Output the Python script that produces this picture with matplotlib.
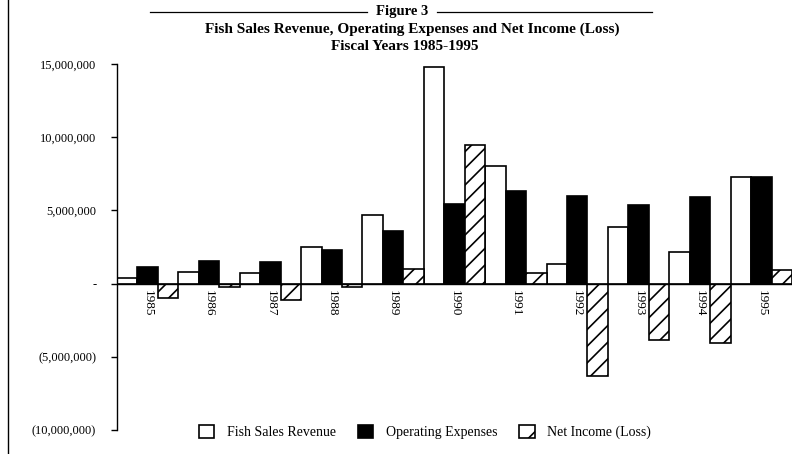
import matplotlib
matplotlib.use("Agg")
import matplotlib.pyplot as plt
from matplotlib.lines import Line2D
from matplotlib.patches import Patch
import numpy as np

years = ["1985", "1986", "1987", "1988", "1989", "1990", "1991", "1992", "1993", "1994", "1995"]
revenue = [350000, 800000, 750000, 2500000, 4700000, 14800000, 8000000, 1350000, 3900000, 2150000, 7300000]
expenses = [1150000, 1550000, 1500000, 2300000, 3600000, 5450000, 6350000, 5950000, 5400000, 5900000, 7300000]
net_income = [-950000, -200000, -1150000, -250000, 1000000, 9450000, 750000, -6300000, -3850000, -4050000, 950000]
yticks = [15000000, 10000000, 5000000, 0, -5000000, -10000000]
ytick_labels = ["15,000,000", "10,000,000", "5,000,000", "-", "(5,000,000)", "(10,000,000)"]
series_names = ["Fish Sales Revenue", "Operating Expenses", "Net Income (Loss)"]

serif = ["Liberation Serif", "DejaVu Serif"]
plt.rcParams["hatch.linewidth"] = 1.2

fig = plt.figure(figsize=(7.94, 4.54), dpi=100)
ax = fig.add_axes([117 / 794, 1 - 430 / 454, (792 - 117) / 794, (430 - 64) / 454])

x = np.arange(len(years))
w = 1 / 3
ax.bar(x - w, revenue, width=w, facecolor="white", edgecolor="black", linewidth=1.2, zorder=2)
ax.bar(x, expenses, width=w, facecolor="black", edgecolor="black", linewidth=1.2, zorder=2)
ax.bar(x + w, net_income, width=w, facecolor="white", edgecolor="black", linewidth=1.2,
       hatch="//", zorder=2)

ax.set_xlim(-0.5, len(years) - 0.5)
ax.set_ylim(-10000000, 15000000)
ax.axhline(0, color="black", linewidth=1.0, zorder=3)

for s in ["top", "right", "bottom"]:
    ax.spines[s].set_visible(False)
ax.spines["left"].set_linewidth(1.0)

ax.set_yticks(yticks)
ax.set_yticklabels(ytick_labels, fontsize=9, family=serif)
ax.tick_params(axis="y", length=4, width=1, pad=11)
ax.set_xticks([])

for xi, yr in zip(x, years):
    ax.text(xi, -450000, yr, rotation=-90, ha="center", va="top", fontsize=9.5, family=serif)

# Title block
fig.text(402 / 794, 1 - 11 / 454, "Figure 3", ha="center", va="center", fontsize=10.5,
         fontweight="bold", family=serif)
fig.add_artist(Line2D([150 / 794, 367 / 794], [1 - 12 / 454] * 2, color="black", lw=0.9))
fig.add_artist(Line2D([437 / 794, 652 / 794], [1 - 12 / 454] * 2, color="black", lw=0.9))
fig.text(412 / 794, 1 - 29 / 454, "Fish Sales Revenue, Operating Expenses and Net Income (Loss)",
         ha="center", va="center", fontsize=11, fontweight="bold", family=serif)
fig.text(405 / 794, 1 - 46 / 454, "Fiscal Years 1985-1995", ha="center", va="center",
         fontsize=11, fontweight="bold", family=serif)

# left page border
fig.add_artist(Line2D([8 / 794] * 2, [0, 1], color="black", lw=1.0))

handles = [Patch(facecolor="white", edgecolor="black", linewidth=1.2),
           Patch(facecolor="black", edgecolor="black", linewidth=1.2),
           Patch(facecolor="white", edgecolor="black", linewidth=1.2, hatch="/")]
fig.legend(handles, series_names, loc="center", bbox_to_anchor=(425 / 794, 1 - 432 / 454),
           ncol=3, frameon=False, prop={"family": serif, "size": 10},
           handlelength=1.1, handleheight=1.1, columnspacing=1.6, handletextpad=0.9)

fig.savefig("out.png", dpi=100)
